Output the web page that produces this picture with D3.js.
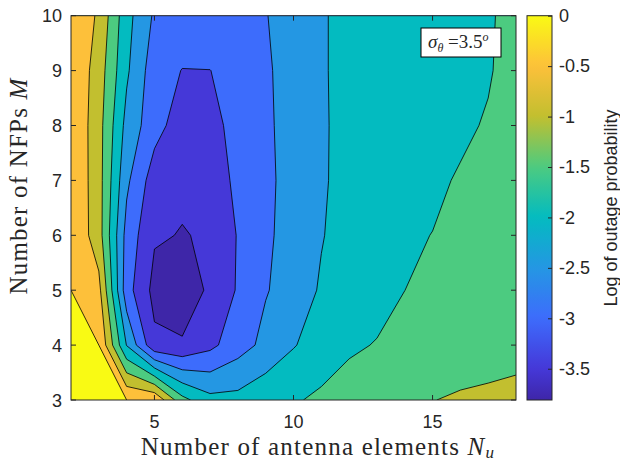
<!DOCTYPE html>
<html>
<head>
<meta charset="utf-8">
<script src="https://cdn.jsdelivr.net/npm/d3@7"></script>
<style>
  body { margin: 0; background: #fff; }
  text { fill: #262626; }
</style>
</head>
<body>
<script>
// grid axes
const nu = [2, 3, 4, 5, 6, 7, 8, 9, 10, 11, 12, 13, 14, 15, 16, 17, 18];
const nfp = [3, 4, 5, 6, 7, 8, 9, 10];

// log outage probability, one row per M, read left to right along N_u
const m3  = [0, 0, 0, -0.05, -1.35, -1.85, -1.85, -1.65, -1.55, -1.41, -1.32, -1.2, -1.1, -1.01, -0.945, -0.92, -0.90];
const m4  = [0, 0, -2.02, -3.39, -3.44, -3.125, -2.71, -2.37, -2.03, -1.78, -1.56, -1.48, -1.40, -1.32, -1.25, -1.18, -1.12];
const m5  = [0, -0.35, -2.8, -3.65, -3.81, -3.41, -2.955, -2.53, -2.30, -1.94, -1.78, -1.64, -1.501, -1.42, -1.35, -1.28, -1.22];
const m6  = [-0.02, -0.78, -2.68, -3.45, -3.52, -3.453, -2.97, -2.60, -2.27, -2.03, -1.78, -1.62, -1.545, -1.495, -1.42, -1.36, -1.30];
const m7  = [-0.02, -0.80, -2.40, -3.26, -3.42, -3.30, -2.88, -2.60, -2.33, -2.06, -1.83, -1.72, -1.64, -1.56, -1.47, -1.40, -1.33];
const m8  = [-0.02, -0.81, -2.16, -2.81, -3.26, -3.15, -2.84, -2.58, -2.32, -2.07, -1.82, -1.74, -1.68, -1.62, -1.56, -1.47, -1.38];
const m9  = [-0.03, -0.74, -1.92, -2.78, -3.013, -3.005, -2.85, -2.56, -2.32, -2.06, -1.82, -1.76, -1.70, -1.65, -1.59, -1.53, -1.36];
const m10 = [-0.05, -0.575, -1.83, -2.57, -2.68, -2.70, -2.66, -2.52, -2.28, -2.05, -1.85, -1.78, -1.72, -1.66, -1.61, -1.56, -1.33];

const levels = [-3.5, -3, -2.5, -2, -1.5, -1, -0.5, 0];
const cbTicks = [0, -0.5, -1, -1.5, -2, -2.5, -3, -3.5];
const xTicks = [5, 10, 15];
const yTicks = [3, 4, 5, 6, 7, 8, 9, 10];
const cLimits = [-3.81, 0];

// parula-like colour stops (fraction, colour)
const parulaPos = [0, 0.081, 0.213, 0.344, 0.475, 0.606, 0.738, 0.869, 1];
const parulaCol = ["#3e26a8", "#4538d8", "#3d6cfc", "#2497e3", "#03bbc0", "#4ccb80", "#c2bf2f", "#fdc03a", "#f9fa14"];

const width = 620, height = 462;
const px0 = 71, px1 = 516, py0 = 15.7, py1 = 400;

const svg = d3.select("body").append("svg")
  .attr("width", width)
  .attr("height", height)
  .style("font-family", "'Liberation Sans', Arial, sans-serif");

const x = d3.scaleLinear().domain([nu[0], nu[nu.length - 1]]).range([px0, px1]);
const y = d3.scaleLinear().domain([nfp[0], nfp[nfp.length - 1]]).range([py1, py0]);
const parula = d3.scaleLinear().domain(parulaPos).range(parulaCol).interpolate(d3.interpolateRgb);
const colour = v => parula((v - cLimits[0]) / (cLimits[1] - cLimits[0]));

// padded grid (edge values repeated) so the contours meet the axes correctly
const rows = [m3, m4, m5, m6, m7, m8, m9, m10];
const nx = nu.length, ny = nfp.length;
const gw = nx + 2, gh = ny + 2;
const values = new Array(gw * gh);
for (let p = 0; p < gh; p++) {
  const j = Math.max(0, Math.min(ny - 1, p - 1));
  for (let q = 0; q < gw; q++) {
    const i = Math.max(0, Math.min(nx - 1, q - 1));
    values[p * gw + q] = rows[j][i];
  }
}

const contours = d3.contours().size([gw, gh]).thresholds(levels)(values);

const path = d3.geoPath(d3.geoTransform({
  point(gx, gy) {
    this.stream.point(x(nu[0] + gx - 1.5), y(nfp[0] + gy - 1.5));
  }
}));

svg.append("clipPath").attr("id", "plotClip")
  .append("rect")
  .attr("x", px0).attr("y", py0)
  .attr("width", px1 - px0).attr("height", py1 - py0);

const plot = svg.append("g").attr("clip-path", "url(#plotClip)");

plot.append("rect")
  .attr("x", px0).attr("y", py0)
  .attr("width", px1 - px0).attr("height", py1 - py0)
  .attr("fill", colour(cLimits[0]));

plot.selectAll("path.band")
  .data(contours)
  .join("path")
  .attr("class", "band")
  .attr("d", path)
  .attr("fill", d => colour(d.value))
  .attr("stroke", "#000")
  .attr("stroke-width", 0.8)
  .attr("stroke-linejoin", "round");

// axes box and inward ticks
const axisCol = "#262626";
svg.append("rect")
  .attr("x", px0).attr("y", py0)
  .attr("width", px1 - px0).attr("height", py1 - py0)
  .attr("fill", "none").attr("stroke", axisCol).attr("stroke-width", 1);

const tickLen = 5;
svg.selectAll("line.xt")
  .data(xTicks.flatMap(t => [[t, py1, py1 - tickLen], [t, py0, py0 + tickLen]]))
  .join("line")
  .attr("x1", d => x(d[0])).attr("x2", d => x(d[0]))
  .attr("y1", d => d[1]).attr("y2", d => d[2])
  .attr("stroke", axisCol);

svg.selectAll("line.yt")
  .data(yTicks.flatMap(t => [[t, px0, px0 + tickLen], [t, px1, px1 - tickLen]]))
  .join("line")
  .attr("y1", d => y(d[0])).attr("y2", d => y(d[0]))
  .attr("x1", d => d[1]).attr("x2", d => d[2])
  .attr("stroke", axisCol);

svg.selectAll("text.xl")
  .data(xTicks)
  .join("text")
  .attr("x", d => x(d)).attr("y", py1 + 28)
  .attr("text-anchor", "middle")
  .attr("font-size", 18)
  .text(d => d);

svg.selectAll("text.yl")
  .data(yTicks)
  .join("text")
  .attr("x", px0 - 9).attr("y", d => y(d) + 6.5)
  .attr("text-anchor", "end")
  .attr("font-size", 18)
  .text(d => d);

// axis titles (LaTeX style): a little extra spacing to get the width of the original
const serif = "'Liberation Serif', 'Times New Roman', serif";
function spreadText(sel, target) {
  const w = sel.node().getComputedTextLength();
  const n = sel.text().length;
  sel.attr("letter-spacing", Math.min(1.2, Math.max(0, (target - w) / n)));
}

const xt = svg.append("text")
  .attr("x", 318).attr("y", 455)
  .attr("text-anchor", "middle")
  .style("font-family", serif)
  .attr("font-size", 25);
xt.append("tspan").text("Number of antenna elements ");
xt.append("tspan").attr("font-style", "italic").text("N");
xt.append("tspan").attr("font-style", "italic").attr("font-size", 17).attr("dy", 3).text("u");
spreadText(xt, 372);

const yt = svg.append("text")
  .attr("transform", "translate(27,186) rotate(-90)")
  .attr("text-anchor", "middle")
  .style("font-family", serif)
  .attr("font-size", 25);
yt.append("tspan").text("Number of NFPs ");
yt.append("tspan").attr("font-style", "italic").text("M");
spreadText(yt, 236);

// annotation box
svg.append("rect")
  .attr("x", 421).attr("y", 28)
  .attr("width", 80).attr("height", 29)
  .attr("fill", "#fff").attr("stroke", "#000").attr("stroke-width", 1);
const ann = svg.append("text")
  .attr("x", 428).attr("y", 48)
  .style("font-family", serif)
  .attr("font-size", 19);
ann.append("tspan").attr("font-style", "italic").text("σ");
ann.append("tspan").attr("font-style", "italic").attr("font-size", 12).attr("dy", 4).text("θ");
ann.append("tspan").attr("dy", -4).text(" =3.5");
ann.append("tspan").attr("font-style", "italic").attr("font-size", 12).attr("dy", -7).text("o");

// colour bar
const cb0 = 527, cb1 = 552;
const cy = d3.scaleLinear().domain(cLimits).range([py1, py0]);
const grad = svg.append("defs").append("linearGradient")
  .attr("id", "cbGrad")
  .attr("x1", 0).attr("y1", 1).attr("x2", 0).attr("y2", 0);
grad.selectAll("stop")
  .data(d3.range(0, 1.0001, 0.02))
  .join("stop")
  .attr("offset", d => d)
  .attr("stop-color", d => parula(d));

svg.append("rect")
  .attr("x", cb0).attr("y", py0)
  .attr("width", cb1 - cb0).attr("height", py1 - py0)
  .attr("fill", "url(#cbGrad)")
  .attr("stroke", axisCol).attr("stroke-width", 1);

const cbAxis = d3.axisRight(cy)
  .tickValues(cbTicks)
  .tickSize(-4)
  .tickPadding(7)
  .tickFormat(d => String(d));
const cbG = svg.append("g")
  .attr("transform", `translate(${cb1},0)`)
  .call(cbAxis);
cbG.select(".domain").remove();
cbG.selectAll("line").attr("stroke", axisCol);
cbG.selectAll("text")
  .attr("font-size", 18)
  .attr("font-family", "'Liberation Sans', Arial, sans-serif")
  .attr("fill", axisCol);

svg.append("text")
  .attr("transform", "translate(617,208) rotate(-90)")
  .attr("text-anchor", "middle")
  .attr("font-size", 18)
  .text("Log of outage probability");
</script>
</body>
</html>
